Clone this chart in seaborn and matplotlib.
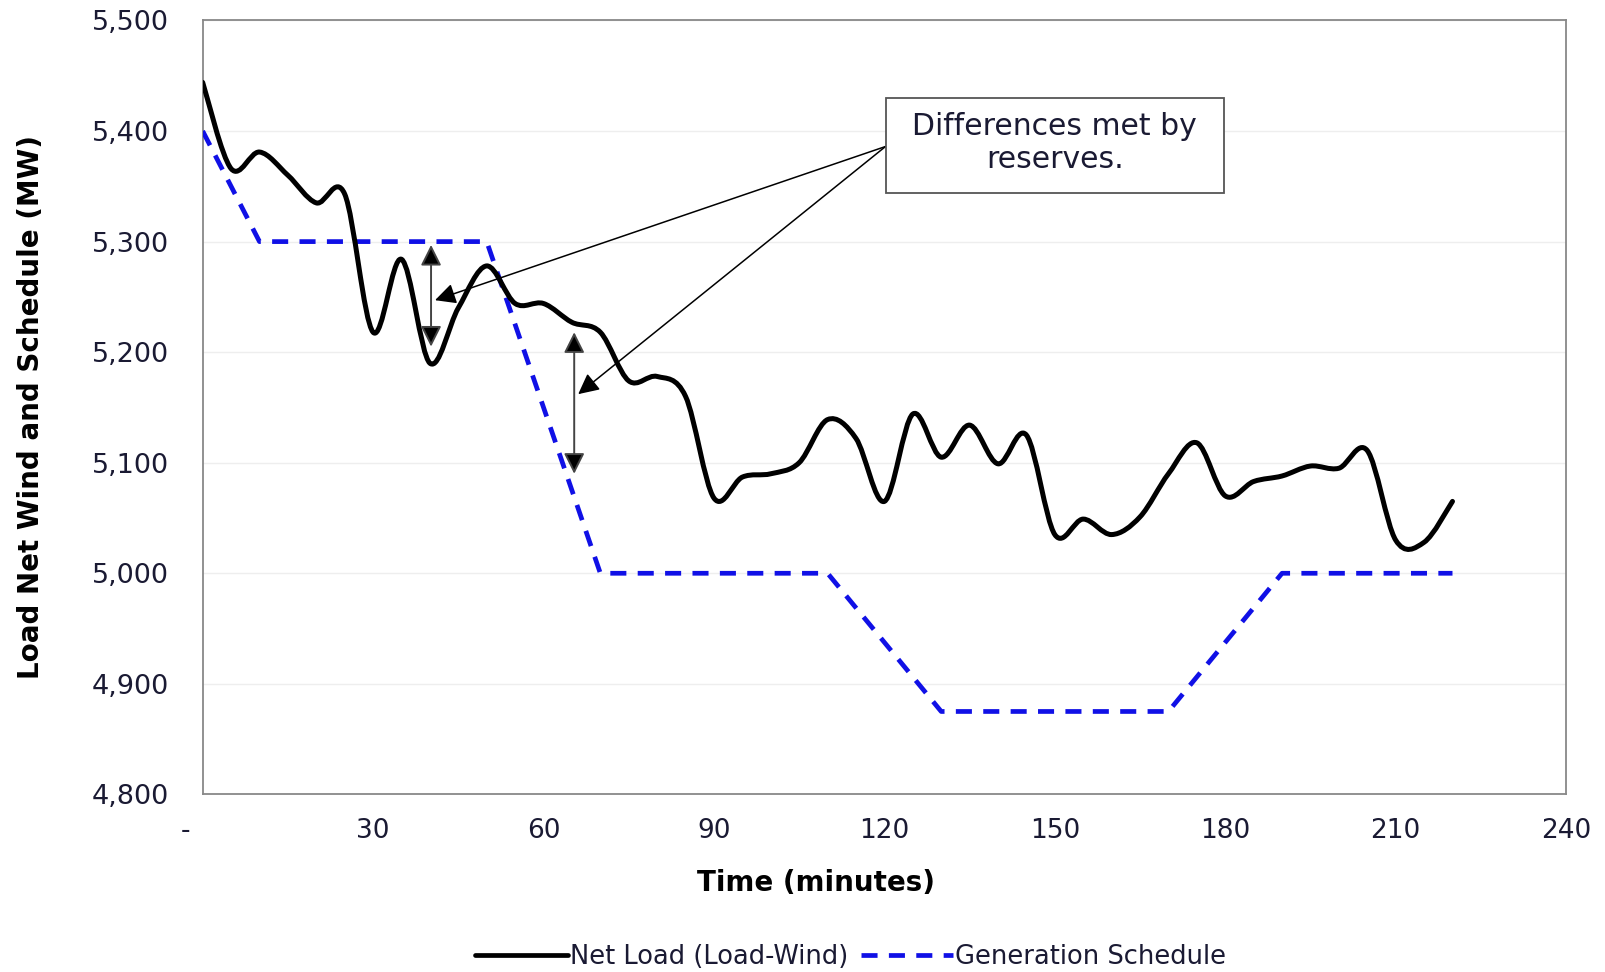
import numpy as np
import matplotlib
matplotlib.use("Agg")
import matplotlib.pyplot as plt
import seaborn as sns
import pandas as pd
from matplotlib.path import Path
from matplotlib.patches import PathPatch, FancyArrowPatch, Rectangle
from matplotlib.lines import Line2D

# ---------------- data ----------------
time_net = list(range(0, 221, 5))
net_load = [5444, 5366, 5381, 5360, 5335, 5343, 5218, 5284, 5190, 5240,
            5278, 5244, 5244, 5227, 5218, 5174, 5178, 5160, 5068, 5087,
            5090, 5100, 5139, 5122, 5065, 5144, 5105, 5134, 5099, 5125,
            5035, 5049, 5035, 5051, 5090, 5118, 5070, 5083, 5088, 5097,
            5095, 5111, 5030, 5028, 5065]
time_sched = [0, 10, 50, 70, 110, 130, 170, 190, 220]
schedule = [5400, 5300, 5300, 5000, 5000, 4875, 4875, 5000, 5000]

x_ticks = [0, 30, 60, 90, 120, 150, 180, 210, 240]
x_tick_labels = ['-    ', '30', '60', '90', '120', '150', '180', '210', '240']
y_ticks = [4800, 4900, 5000, 5100, 5200, 5300, 5400, 5500]
y_tick_labels = ['4,800', '4,900', '5,000', '5,100', '5,200', '5,300', '5,400', '5,500']

series_names = ['Net Load (Load-Wind)', 'Generation Schedule']
annotation_text = 'Differences met by\nreserves.'

# ---------------- style ----------------
sns.set_style('white')
plt.rcParams['font.family'] = ['DejaVu Sans']

TXT = '#1a1a33'
BLUE = '#1010e6'

fig = plt.figure(figsize=(16.05, 9.72), dpi=100)
W, H = 1568.0, 949.5
ax = fig.add_axes([198/W, 1-776/H, (1530-198)/W, (776-20)/H])

sched_df = pd.DataFrame({'t': time_sched, 'v': schedule})
sns.lineplot(data=sched_df, x='t', y='v', ax=ax, color=BLUE, lw=3.4,
             dashes=False, zorder=3)
ax.lines[-1].set_dashes([3.4, 2.4])

# smoothed net load (Excel-like Catmull-Rom bezier through the points)
xs = np.array(time_net, float)
ys = np.array(net_load, float)
pts = np.column_stack([xs, ys])
verts = [pts[0]]
codes = [Path.MOVETO]
n = len(pts)
for i in range(n - 1):
    p0 = pts[i - 1] if i > 0 else pts[i]
    p1 = pts[i]
    p2 = pts[i + 1]
    p3 = pts[i + 2] if i + 2 < n else pts[i + 1]
    c1 = p1 + (p2 - p0) / 6.0
    c2 = p2 - (p3 - p1) / 6.0
    verts += [c1, c2, p2]
    codes += [Path.CURVE4] * 3
ax.add_patch(PathPatch(Path(verts, codes), facecolor='none', edgecolor='black',
                       lw=3.6, zorder=4, capstyle='round', joinstyle='round'))

ax.set_xlim(0, 240)
ax.set_ylim(4800, 5500)
ax.set_xticks(x_ticks)
ax.set_xticklabels(x_tick_labels, fontsize=19, color=TXT)
ax.set_yticks(y_ticks)
ax.set_yticklabels(y_tick_labels, fontsize=19.5, color=TXT)
ax.tick_params(axis='both', direction='out', length=5, width=1, color='#888888')
ax.tick_params(axis='x', pad=12)
ax.tick_params(axis='y', pad=19)
ax.grid(axis='y', color='#eeeeee', lw=1)
ax.set_axisbelow(True)
for s in ax.spines.values():
    s.set_color('#888888')
    s.set_linewidth(1.3)

ax.set_xlabel('Time (minutes)', fontsize=20, fontweight='bold', labelpad=18, color='black')
ax.xaxis.label.set_x((797 - 198) / (1530 - 198))
ax.set_ylabel('Load Net Wind and Schedule (MW)', fontsize=20, fontweight='bold',
              labelpad=34, color='black')

# double-headed vertical arrows
for (xa, y0, y1) in [(40.2, 5297, 5205), (65.4, 5218, 5090)]:
    ax.add_patch(FancyArrowPatch((xa, y0), (xa, y1),
                                 arrowstyle='<|-|>,head_length=0.9,head_width=0.45',
                                 mutation_scale=14, facecolor='black', edgecolor='#444444',
                                 lw=1.4, zorder=6, shrinkA=0, shrinkB=0))

# pointer lines from box
box_pt = (120.2, 5386)
for tgt in [(40.9, 5247), (66.1, 5162)]:
    ax.add_patch(FancyArrowPatch(box_pt, tgt, arrowstyle='-|>,head_length=0.9,head_width=0.45',
                                 mutation_scale=14, color='black', lw=1.1, zorder=6,
                                 shrinkA=0, shrinkB=0))

ax.add_patch(Rectangle((120.2, 5344), 179.8 - 120.2, 5430 - 5344, facecolor='white',
                       edgecolor='#555555', lw=1.3, zorder=7))
ax.text(150, 5389, annotation_text, ha='center', va='center', fontsize=21.5,
        color=TXT, zorder=8, linespacing=1.2)

handles = [Line2D([], [], color='black', lw=3.4),
           Line2D([], [], color=BLUE, lw=3.4, dashes=[3.4, 2.4])]
fig.legend(handles, series_names, loc='center', bbox_to_anchor=(831/W, 1-935/H),
           ncol=2, frameon=False, fontsize=18.5, handlelength=3.6, handletextpad=0.08,
           columnspacing=0.5, labelcolor=TXT)

fig.savefig('out.png', dpi=100)
